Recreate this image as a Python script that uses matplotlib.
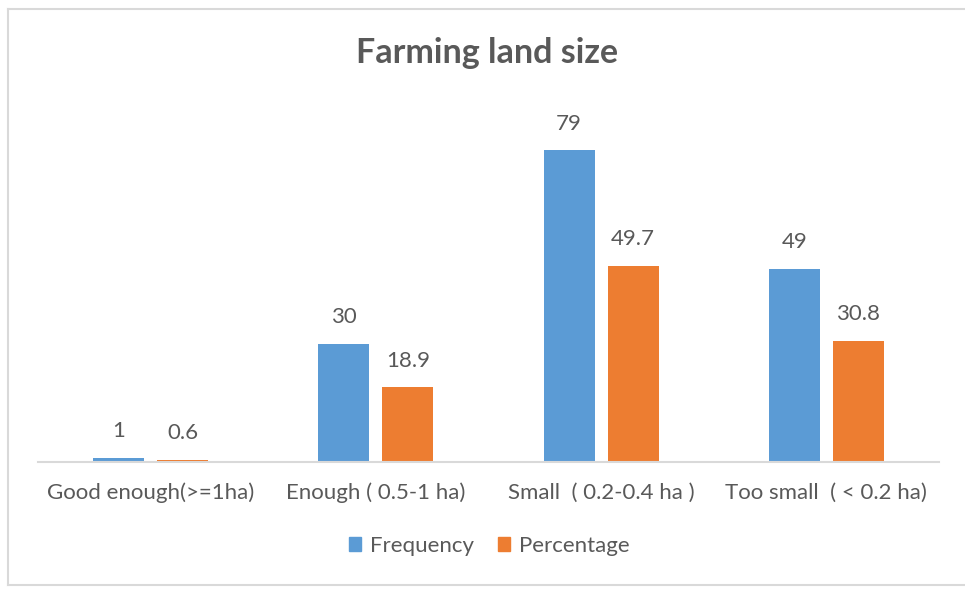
import matplotlib
matplotlib.use("Agg")
from matplotlib import pyplot as plt
from matplotlib.lines import Line2D
from matplotlib.patches import Patch
import numpy as np

categories = ["Good enough(>=1ha)", "Enough ( 0.5-1 ha)", "Small  ( 0.2-0.4 ha )", "Too small  ( < 0.2 ha)"]
frequency = [1, 30, 79, 49]
percentage = [0.6, 18.9, 49.7, 30.8]
series_names = ["Frequency", "Percentage"]

BLUE = "#5B9BD5"
ORANGE = "#ED7D31"
TEXT = "#595959"
GRID = "#D9D9D9"

plt.rcParams["font.family"] = ["Lato", "DejaVu Sans"]

fig = plt.figure(figsize=(9.65, 5.9), dpi=100)
ax = fig.add_axes([0.0394, 0.2169, 0.9337, 0.6017])

x = np.arange(len(categories))
width = 0.226
gap = 0.058
off = (width + gap) / 2
bars1 = ax.bar(x - off, frequency, width, color=BLUE)
bars2 = ax.bar(x + off, percentage, width, color=ORANGE)

for bars, vals in ((bars1, frequency), (bars2, percentage)):
    for b, v in zip(bars, vals):
        ax.annotate("{:g}".format(v), (b.get_x() + b.get_width() / 2, v),
                    xytext=(0, 12), textcoords="offset points",
                    ha="center", va="bottom", fontsize=16, color=TEXT)

ax.set_xlim(-0.5, len(categories) - 0.5)
ax.set_ylim(0, 90)
ax.set_xticks(x)
ax.set_xticklabels(categories, fontsize=16, color=TEXT)
ax.tick_params(axis="x", length=0, pad=15)
ax.set_yticks([])
for side in ("left", "right", "top"):
    ax.spines[side].set_visible(False)
ax.spines["bottom"].set_color(GRID)
ax.spines["bottom"].set_linewidth(1.5)

fig.text(0.505, 0.91, "Farming land size", ha="center", va="center",
         fontsize=24.5, fontweight="bold", color=TEXT)

handles = [Patch(color=BLUE), Patch(color=ORANGE)]
fig.legend(handles, series_names, loc="center", bbox_to_anchor=(0.507, 0.075),
           ncol=2, frameon=False, fontsize=16, labelcolor=TEXT,
           handlelength=0.55, handleheight=0.55, handletextpad=0.4, columnspacing=1.1)

# chart frame (open on the right)
W, H = 965.0, 590.0
frame = dict(color=GRID, linewidth=1.5, transform=fig.transFigure)
fig.add_artist(Line2D([8 / W, 1.0], [1 - 9 / H, 1 - 9 / H], **frame))
fig.add_artist(Line2D([8 / W, 1.0], [1 - 585 / H, 1 - 585 / H], **frame))
fig.add_artist(Line2D([8 / W, 8 / W], [1 - 9 / H, 1 - 585 / H], **frame))

fig.savefig("out.png", dpi=100)
